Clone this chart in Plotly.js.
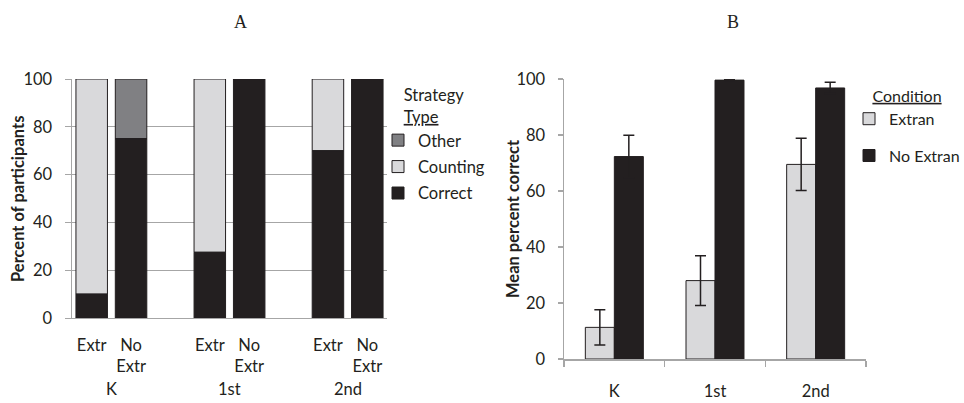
<!DOCTYPE html>
<html>
<head>
<meta charset="utf-8">
<script src="https://cdn.plot.ly/plotly-3.0.1.min.js"></script>
<style>html,body{margin:0;padding:0;background:#fff}#chart{width:964px;height:403px}</style>
</head>
<body>
<div id="chart"></div>
<script>
// ---- Panel A data ----
const gradesA = ['K', 'K', '1st', '1st', '2nd', '2nd'];
const condsA = ['Extr', 'No Extr', 'Extr', 'No Extr', 'Extr', 'No Extr'];
const condTicksA = ['Extr', 'No<br>Extr', 'Extr', 'No<br>Extr', 'Extr', 'No<br>Extr'];
const correctA = [10, 75, 27.5, 100, 70, 100];
const countingA = [90, 0, 72.5, 0, 30, 0];
const otherA = [0, 25, 0, 0, 0, 0];
const groupLabelsA = ['K', '1st', '2nd'];

// ---- Panel B data ----
const gradesB = ['K', '1st', '2nd'];
const extranB = [11.3, 28, 69.5];
const extranErrB = [6.3, 8.9, 9.3];
const noExtranB = [72.3, 99.6, 96.8];
const noExtranErrB = [7.6, 0.3, 2.0];

const FONT = 'Lato, "Open Sans", sans-serif';
const INK = '#231f20';
const LIGHT = '#d9d9db';
const MID = '#808083';
const AXIS = '#a6a6a6';
const FS = 16.5;

// category keys for panel A with spacer slots between grades
const keysA = gradesA.map((g, i) => g + '|' + condsA[i]);
const catArrayA = [];
keysA.forEach((k, i) => {
  catArrayA.push(k);
  if (i % 2 === 1 && i < keysA.length - 1) catArrayA.push('gap' + i);
});
const baseCounting = correctA.slice();
const baseOther = correctA.map((c, i) => c + countingA[i]);

const outline = {color: INK, width: 1};
const traces = [
  {type: 'bar', name: 'Other', x: keysA, y: otherA, base: baseOther,
   marker: {color: MID, line: outline}, xaxis: 'x', yaxis: 'y',
   legend: 'legend', legendgroup: 'o', hoverinfo: 'skip'},
  {type: 'bar', name: 'Counting', x: keysA, y: countingA, base: baseCounting,
   marker: {color: LIGHT, line: outline}, xaxis: 'x', yaxis: 'y',
   legend: 'legend', legendgroup: 'c', hoverinfo: 'skip'},
  {type: 'bar', name: 'Correct', x: keysA, y: correctA,
   marker: {color: INK, line: outline}, xaxis: 'x', yaxis: 'y',
   legend: 'legend', legendgroup: 'r', hoverinfo: 'skip'},
  {type: 'bar', name: 'Extran', x: gradesB, y: extranB,
   width: 0.288, offset: -0.288,
   error_y: {type: 'data', array: extranErrB, color: INK, thickness: 1.5, width: 5.5},
   marker: {color: LIGHT, line: outline}, xaxis: 'x2', yaxis: 'y2',
   legend: 'legend2', legendgroup: 'e', hoverinfo: 'skip'},
  {type: 'bar', name: 'No Extran', x: gradesB, y: noExtranB,
   width: 0.288, offset: 0,
   error_y: {type: 'data', array: noExtranErrB, color: INK, thickness: 1.5, width: 5.5},
   marker: {color: INK, line: outline}, xaxis: 'x2', yaxis: 'y2',
   legend: 'legend2', legendgroup: 'n', hoverinfo: 'skip'}
];

const W = 964, H = 403;
const px = v => v / W, py = v => 1 - v / H;
const tickFont = {family: FONT, size: FS, color: INK};
const serif = {family: '"Liberation Serif", "Times New Roman", serif', size: 18, color: INK};

const annotations = [
  {text: 'A', x: px(240), y: py(22), xref: 'paper', yref: 'paper', showarrow: false,
   xanchor: 'center', yanchor: 'middle', font: serif},
  {text: 'B', x: px(733), y: py(22), xref: 'paper', yref: 'paper', showarrow: false,
   xanchor: 'center', yanchor: 'middle', font: serif},
  {text: '<b>Percent of participants</b>', x: px(18), y: py(199), xref: 'paper', yref: 'paper',
   textangle: -90, showarrow: false, xanchor: 'center', yanchor: 'middle', font: tickFont},
  {text: '<b>Mean percent correct</b>', x: px(513), y: py(219), xref: 'paper', yref: 'paper',
   textangle: -90, showarrow: false, xanchor: 'center', yanchor: 'middle', font: tickFont}
];
groupLabelsA.forEach((g, i) => {
  annotations.push({text: g, x: i * 3 + 0.5, xref: 'x', y: py(389), yref: 'paper',
    xanchor: 'center', yanchor: 'middle', showarrow: false, font: tickFont});
});

const layout = {
  width: W, height: H,
  margin: {l: 0, r: 0, t: 0, b: 0, autoexpand: false},
  paper_bgcolor: '#fff', plot_bgcolor: 'rgba(0,0,0,0)',
  barmode: 'overlay', bargap: 0.2,
  font: {family: FONT, color: INK},
  xaxis: {
    domain: [px(72), px(387)], type: 'category', categoryarray: catArrayA,
    categoryorder: 'array', range: [-0.5, catArrayA.length - 0.5],
    tickvals: keysA, ticktext: condTicksA, ticks: '', showgrid: false,
    showline: true, linecolor: AXIS, linewidth: 1, tickfont: tickFont,
    ticklabelstandoff: 12, fixedrange: true
  },
  yaxis: {
    domain: [py(318), py(79)], range: [0, 100], dtick: 20,
    showgrid: true, gridcolor: AXIS, gridwidth: 1,
    showline: true, linecolor: AXIS, linewidth: 1.5, zeroline: false,
    ticks: 'outside', ticklen: 6, tickcolor: AXIS, tickfont: tickFont,
    ticklabelstandoff: 9, fixedrange: true
  },
  xaxis2: {
    domain: [px(564), px(866)], anchor: 'y2', type: 'category',
    categoryarray: gradesB, categoryorder: 'array', range: [-0.5, 2.5],
    showline: true, linecolor: AXIS, linewidth: 1.5,
    ticks: 'outside', tickson: 'boundaries', ticklen: 6, tickcolor: AXIS, tickwidth: 1.5,
    tickfont: tickFont, ticklabelstandoff: 17, showgrid: false, fixedrange: true
  },
  yaxis2: {
    domain: [py(359), py(79)], anchor: 'x2', range: [0, 100], dtick: 20,
    showgrid: false, showline: true, linecolor: AXIS, linewidth: 1.5, zeroline: false,
    ticks: 'outside', ticklen: 5, tickcolor: AXIS, tickwidth: 1.5, tickfont: tickFont,
    ticklabelstandoff: 9, fixedrange: true
  },
  legend: {
    x: px(378), y: py(80), xanchor: 'left', yanchor: 'top',
    title: {text: 'Strategy<br><span style="text-decoration:underline">Type</span>', side: 'top center',
            font: {family: FONT, size: FS, color: INK}},
    font: {family: FONT, size: FS, color: INK}, traceorder: 'grouped', tracegroupgap: 2,
    bgcolor: 'rgba(0,0,0,0)', itemclick: false, itemdoubleclick: false
  },
  legend2: {
    x: px(849), y: py(81), xanchor: 'left', yanchor: 'top',
    title: {text: '<span style="text-decoration:underline">Condition</span>', side: 'top center',
            font: {family: FONT, size: 16, color: INK}},
    font: {family: FONT, size: 16, color: INK}, traceorder: 'grouped', tracegroupgap: 13,
    bgcolor: 'rgba(0,0,0,0)', itemclick: false, itemdoubleclick: false
  },
  annotations: annotations,
  showlegend: true
};

Plotly.newPlot('chart', traces, layout, {displayModeBar: false, staticPlot: true});
</script>
</body>
</html>
